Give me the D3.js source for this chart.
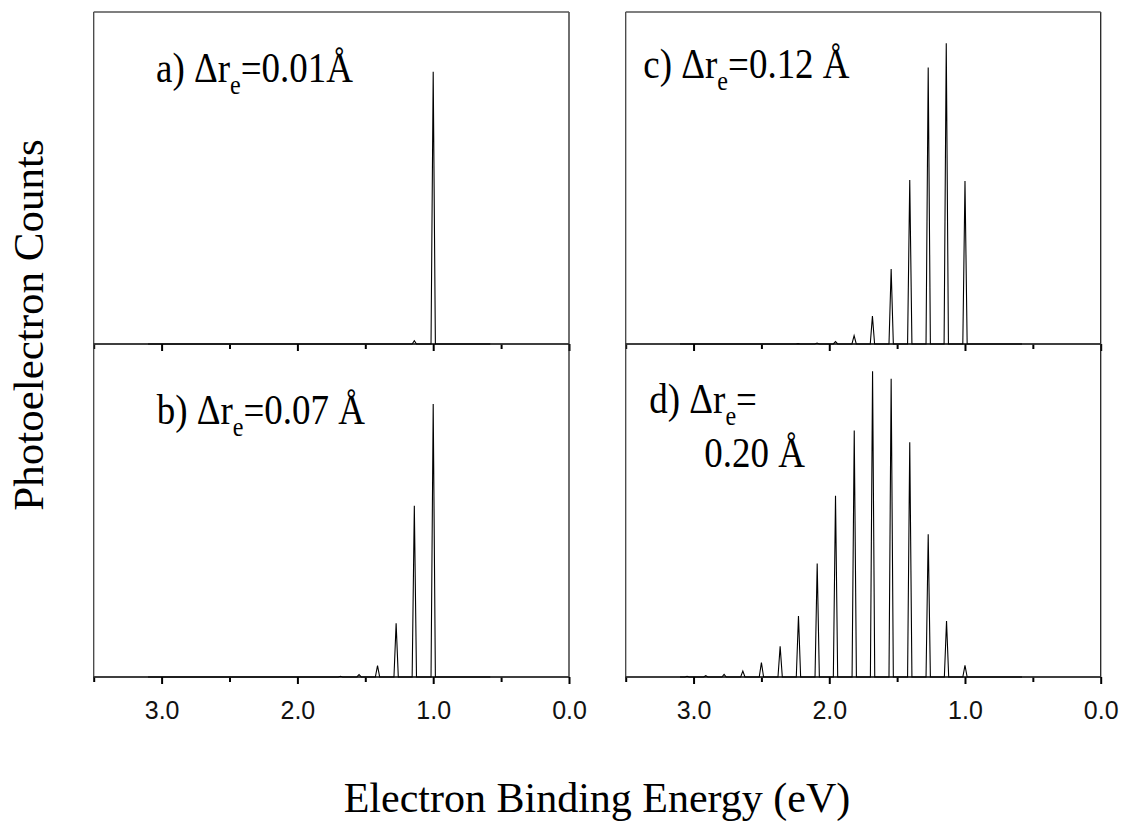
<!DOCTYPE html>
<html>
<head>
<meta charset="utf-8">
<script src="https://cdn.jsdelivr.net/npm/d3@7"></script>
<style>
  body { margin: 0; background: #fff; }
  svg { display: block; }
  .serif { font-family: "Liberation Serif", "Times New Roman", serif; fill: #000; }
</style>
</head>
<body>
<div id="chart"></div>
<script>
// peak positions (eV) and relative heights
var energyA = [1.0, 1.139];
var heightA = [0.82, 0.01];

var energyB = [1.0, 1.139, 1.273, 1.41, 1.546, 1.683];
var heightB = [0.82, 0.514, 0.161, 0.034, 0.007, 0.002];

var energyC = [1.0, 1.138, 1.271, 1.407, 1.544, 1.682, 1.817, 1.954, 2.09, 2.23];
var heightC = [0.491, 0.906, 0.833, 0.494, 0.226, 0.084, 0.025, 0.007, 0.003, 0.001];

var energyD = [1.0, 1.136, 1.271, 1.407, 1.544, 1.681, 1.816, 1.954, 2.089, 2.227,
               2.362, 2.5, 2.637, 2.775, 2.91, 3.048];
var heightD = [0.035, 0.168, 0.429, 0.705, 0.896, 0.918, 0.740, 0.544, 0.341, 0.183,
               0.092, 0.043, 0.018, 0.008, 0.004, 0.002];

var spectrumRange = [3.1, 0.58];     // where the simulated trace runs
var majorTicks = [3.0, 2.0, 1.0, 0.0];
var minorTicks = [3.5, 2.5, 1.5, 0.5];

var svgWidth = 1121;
var svgHeight = 821;

var svg = d3.select("#chart")
  .append("svg")
  .attr("width", svgWidth)
  .attr("height", svgHeight);

// panel layout
var cols = [{ left: 93.7, right: 569 }, { left: 625.7, right: 1100.7 }];
var rows = [{ top: 12, bottom: 344 }, { top: 344, bottom: 677 }];

var panels = [
  { col: 0, row: 0, energy: energyA, height: heightA },
  { col: 0, row: 1, energy: energyB, height: heightB },
  { col: 1, row: 0, energy: energyC, height: heightC },
  { col: 1, row: 1, energy: energyD, height: heightD }
];

var halfWidth = 0.016; // peak half width at base, eV

panels.forEach(function(p) {
  var c = cols[p.col], r = rows[p.row];

  var x = d3.scaleLinear().domain([3.5, 0]).range([c.left, c.right]);
  var y = d3.scaleLinear().domain([0, 1]).range([r.bottom, r.top]);

  var g = svg.append("g");

  // frame: left, right and (top row only) top edges
  g.append("line")
    .attr("x1", c.left).attr("x2", c.left)
    .attr("y1", r.top).attr("y2", r.bottom)
    .attr("stroke", "#444").attr("stroke-width", 1.3);
  g.append("line")
    .attr("x1", c.right).attr("x2", c.right)
    .attr("y1", r.top).attr("y2", r.bottom)
    .attr("stroke", "#222").attr("stroke-width", 1.3);
  if (p.row === 0) {
    g.append("line")
      .attr("x1", c.left).attr("x2", c.right)
      .attr("y1", r.top).attr("y2", r.top)
      .attr("stroke", "#555").attr("stroke-width", 1.3);
  }

  // bottom axis: minor then major ticks
  var minorAxis = d3.axisBottom(x).tickValues(minorTicks).tickSize(5).tickFormat("");
  var majorAxis = d3.axisBottom(x).tickValues(majorTicks).tickSize(7).tickPadding(17)
    .tickFormat(p.row === 1 ? d3.format(".1f") : "");

  [minorAxis, majorAxis].forEach(function(ax) {
    var a = g.append("g")
      .attr("transform", "translate(0," + r.bottom + ")")
      .call(ax);
    a.attr("font-family", "'Liberation Sans', Arial, sans-serif").attr("font-size", 25);
    a.select(".domain").attr("stroke", "#333").attr("stroke-width", 1.5)
      .attr("d", "M" + c.left + ",0H" + c.right);
    a.selectAll(".tick line").attr("stroke", "#000").attr("stroke-width", 2);
    a.selectAll(".tick text").attr("fill", "#111");
  });

  // spectrum trace: thin triangular peaks on a flat baseline
  var pts = [[spectrumRange[0], 0]];
  var order = d3.range(p.energy.length).sort(function(i, j) { return p.energy[j] - p.energy[i]; });
  order.forEach(function(i) {
    var e = p.energy[i];
    pts.push([e + halfWidth, 0], [e, p.height[i]], [e - halfWidth, 0]);
  });
  pts.push([spectrumRange[1], 0]);

  var line = d3.line()
    .x(function(d) { return x(d[0]); })
    .y(function(d) { return y(d[1]); });

  g.append("path")
    .datum(pts)
    .attr("d", line)
    .attr("fill", "none")
    .attr("stroke", "#000")
    .attr("stroke-width", 1.1)
    .attr("stroke-linejoin", "miter");
});

// panel labels (the original face is a bit narrow, so squeeze horizontally)
function addLabel(xPos, yPos, prefix, value) {
  var t = svg.append("text")
    .attr("class", "serif")
    .attr("transform", "translate(" + xPos + "," + yPos + ") scale(0.86,1)")
    .attr("font-size", 43);
  t.append("tspan").text(prefix + " \u0394r");
  t.append("tspan").attr("font-size", 28).attr("dy", 12).text("e");
  t.append("tspan").attr("dy", -12).text("=" + value);
}
addLabel(156, 82, "a)", "0.01\u00c5");
addLabel(156.7, 424, "b)", "0.07 \u00c5");
addLabel(643.3, 78.3, "c)", "0.12 \u00c5");
addLabel(649.3, 413.3, "d)", "");
svg.append("text")
  .attr("class", "serif")
  .attr("transform", "translate(704.3,466.7) scale(0.86,1)")
  .attr("font-size", 43)
  .text("0.20 \u00c5");

// axis titles
svg.append("text")
  .attr("class", "serif")
  .attr("transform", "translate(43,325) rotate(-90)")
  .attr("text-anchor", "middle")
  .attr("font-size", 43)
  .text("Photoelectron Counts");

svg.append("text")
  .attr("class", "serif")
  .attr("x", 597).attr("y", 811.7)
  .attr("text-anchor", "middle")
  .attr("font-size", 42)
  .text("Electron Binding Energy (eV)");
</script>
</body>
</html>
